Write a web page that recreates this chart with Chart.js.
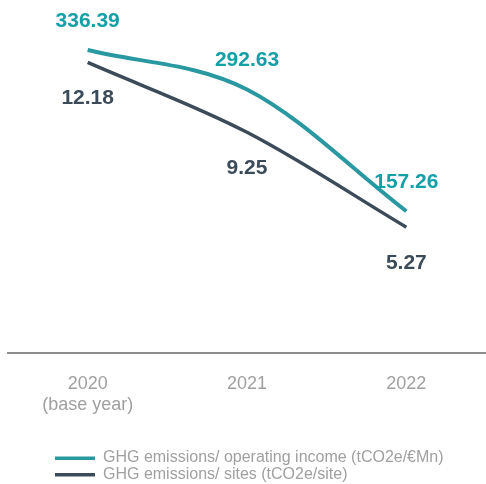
<!DOCTYPE html>
<html>
<head>
<meta charset="utf-8">
<script src="https://cdn.jsdelivr.net/npm/chart.js@4.4.1/dist/chart.umd.min.js"></script>
<style>
  html, body { margin: 0; padding: 0; background: #ffffff; }
  #wrap { width: 486px; height: 484px; }
</style>
</head>
<body>
<div id="wrap"><canvas id="ghgChart" width="486" height="484"></canvas></div>
<script>
const years = [["2020", "(base year)"], "2021", "2022"];
const incomeIntensity = [336.39, 292.63, 157.26];
const siteIntensity = [12.18, 9.25, 5.27];

const TEAL = "#2a98a0";
const TEAL_TEXT = "#14a0a7";
const SLATE = "#3c4b5a";
const GREY = "#a0a0a0";

// value labels above / below each point
const valueLabels = {
  id: "valueLabels",
  afterDatasetsDraw(chart) {
    const { ctx } = chart;
    ctx.save();
    ctx.font = "bold 21px 'Liberation Sans', Arial, sans-serif";
    ctx.textAlign = "center";
    ctx.textBaseline = "middle";
    chart.data.datasets.forEach((ds, i) => {
      const meta = chart.getDatasetMeta(i);
      ctx.fillStyle = ds.labelColor;
      meta.data.forEach((pt, j) => {
        ctx.fillText(ds.data[j].toFixed(2), pt.x, pt.y + ds.labelOffset);
      });
    });
    ctx.restore();
  },
};

// stacked legend, left aligned
const stackedLegend = {
  id: "stackedLegend",
  afterDraw(chart) {
    const { ctx } = chart;
    ctx.save();
    ctx.font = "16px 'Liberation Sans', Arial, sans-serif";
    ctx.textBaseline = "middle";
    chart.data.datasets.forEach((ds, i) => {
      const y = 458 + i * 16.5;
      ctx.fillStyle = ds.borderColor;
      ctx.fillRect(55, y - 1.5, 40, 3.5);
      ctx.fillStyle = GREY;
      ctx.fillText(ds.label, 103, y);
    });
    ctx.restore();
  },
};

new Chart(document.getElementById("ghgChart"), {
  type: "line",
  data: {
    labels: years,
    datasets: [
      {
        label: "GHG emissions/ operating income (tCO2e/€Mn)",
        data: incomeIntensity,
        borderColor: TEAL,
        borderWidth: 4,
        cubicInterpolationMode: "monotone",
        pointRadius: 0,
        yAxisID: "y",
        labelColor: TEAL_TEXT,
        labelOffset: -29,
      },
      {
        label: "GHG emissions/ sites (tCO2e/site)",
        data: siteIntensity,
        borderColor: SLATE,
        borderWidth: 3.5,
        cubicInterpolationMode: "monotone",
        pointRadius: 0,
        yAxisID: "y1",
        labelColor: SLATE,
        labelOffset: 36,
      },
    ],
  },
  options: {
    responsive: false,
    animation: false,
    layout: { padding: { left: 8, right: 0, top: 0, bottom: 48 } },
    plugins: { legend: { display: false }, tooltip: { enabled: false } },
    scales: {
      x: {
        offset: true,
        grid: { display: false, drawTicks: false },
        border: { display: true, color: "#8c8c8c", width: 2 },
        ticks: {
          color: GREY,
          padding: 20,
          maxRotation: 0,
          font: { family: "'Liberation Sans', Arial, sans-serif", size: 18 },
        },
      },
      y: { display: false, min: 0, max: 392 },
      y1: { display: false, min: 0, max: 14.8 },
    },
  },
  plugins: [valueLabels, stackedLegend],
});
</script>
</body>
</html>
